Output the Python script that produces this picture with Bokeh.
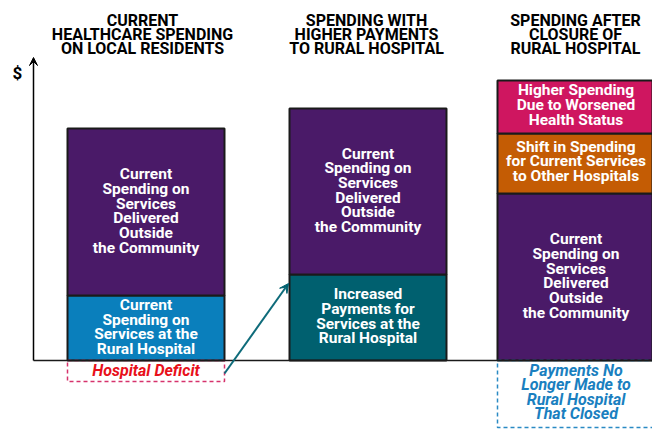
from bokeh.plotting import figure
from bokeh.models import Range1d, Arrow, VeeHead
from bokeh.core.properties import value
from bokeh.embed import file_html
from bokeh.resources import INLINE

# ---- data (arbitrary $ units) ----
scenarios = ["CURRENT\nHEALTHCARE SPENDING\nON LOCAL RESIDENTS",
             "SPENDING WITH\nHIGHER PAYMENTS\nTO RURAL HOSPITAL",
             "SPENDING AFTER\nCLOSURE OF\nRURAL HOSPITAL"]
local_hospital = [65, 86, 0]
outside_community = [167, 166, 167]
shift_other = [0, 0, 60]
worse_health = [0, 0, 53]
below_zero = [21, 0, 67]   # dashed boxes below the baseline

local_labels = ["Current\nSpending on\nServices at the\nRural Hospital",
                "Increased\nPayments for\nServices at the\nRural Hospital", ""]
outside_label = "Current\nSpending on\nServices\nDelivered\nOutside\nthe Community"
shift_label = "Shift in Spending\nfor Current Services\nto Other Hospitals"
worse_label = "Higher Spending\nDue to Worsened\nHealth Status"
below_labels = ["Hospital Deficit", "", "Payments No\nLonger Made to\nRural Hospital\nThat Closed"]

# ---- layout ----
centers = [145.5, 367.5, 575.5]
title_x = [142, 366, 575]
bar_w = 157
PURPLE = "#4a1a68"
BLUE = "#0a7fbc"
TEAL = "#00606f"
ORANGE = "#c45c04"
MAGENTA = "#cf1660"
EDGE = "#1a1a1a"
FONT = value("Roboto")

p = figure(width=652, height=436, x_range=Range1d(0, 652), y_range=Range1d(-76, 360),
           output_backend="svg", toolbar_location=None, min_border=0,
           x_axis_location=None, y_axis_location=None, title=None)
p.outline_line_color = None
p.grid.visible = False

local_colors = [BLUE, TEAL, BLUE]
b1 = local_hospital
b2 = [a + b for a, b in zip(b1, outside_community)]
b3 = [a + b for a, b in zip(b2, shift_other)]
b4 = [a + b for a, b in zip(b3, worse_health)]

for i in range(3):
    if local_hospital[i] > 0:
        p.vbar(x=centers[i], width=bar_w, bottom=0, top=b1[i], fill_color=local_colors[i],
               line_color=EDGE, line_width=2)
    p.vbar(x=centers[i], width=bar_w, bottom=b1[i], top=b2[i], fill_color=PURPLE,
           line_color=EDGE, line_width=2)
    if shift_other[i] > 0:
        p.vbar(x=centers[i], width=bar_w, bottom=b2[i], top=b3[i], fill_color=ORANGE,
               line_color=EDGE, line_width=2)
    if worse_health[i] > 0:
        p.vbar(x=centers[i], width=bar_w, bottom=b3[i], top=b4[i], fill_color=MAGENTA,
               line_color=EDGE, line_width=2)

# labels
def lab(x, y, t, color="white", style="bold", size="15.5px", lh=0.815):
    p.text(x=[x], y=[y], text=[t], text_align="center", text_baseline="middle",
           text_color=color, text_font=FONT, text_font_style=style,
           text_font_size=size, text_line_height=lh)

for i in range(3):
    if local_hospital[i] > 0:
        lab(centers[i], local_hospital[i] / 2 + 1, local_labels[i])
    lab(centers[i], (b1[i] + b2[i]) / 2 + 1, outside_label)
    if shift_other[i] > 0:
        lab(centers[i], (b2[i] + b3[i]) / 2 + 2, shift_label)
    if worse_health[i] > 0:
        lab(centers[i], (b3[i] + b4[i]) / 2 + 2, worse_label)

# titles
for i in range(3):
    lab(title_x[i], 326, scenarios[i], color="black", size="16px", lh=0.75)

# dashed boxes below zero
box_colors = ["#d6336c", None, "#2a8ac4"]
text_colors = ["#e8101a", None, "#1a7fc0"]
for i in range(3):
    if below_zero[i] > 0:
        p.quad(left=centers[i] - bar_w / 2, right=centers[i] + bar_w / 2, top=0,
               bottom=-below_zero[i], fill_color=None, line_color=box_colors[i],
               line_width=1.5, line_dash="4 3")
        lab(centers[i], -below_zero[i] / 2 + (0.5 if i == 0 else 2), below_labels[i],
            color=text_colors[i], style="bold italic", size="16px", lh=0.77)

# axes: y arrow and baseline
p.segment(x0=33, y0=0, x1=652, y1=0, line_color=EDGE, line_width=1.5)
p.add_layout(Arrow(end=VeeHead(size=8, fill_color="black", line_color="black"),
                   x_start=33, y_start=0, x_end=33, y_end=303,
                   line_color="black", line_width=1.5))
p.text(x=[17], y=[288], text=["$"], text_align="center", text_baseline="middle",
       text_color="black", text_font=FONT, text_font_style="bold", text_font_size="17px")

# arrow from deficit to increased payments
p.add_layout(Arrow(end=VeeHead(size=9, fill_color=TEAL, line_color=TEAL),
                   x_start=224, y_start=-13, x_end=288, y_end=77,
                   line_color="#0e6b7a", line_width=2))

open("out.html", "w").write(file_html(p, INLINE))
